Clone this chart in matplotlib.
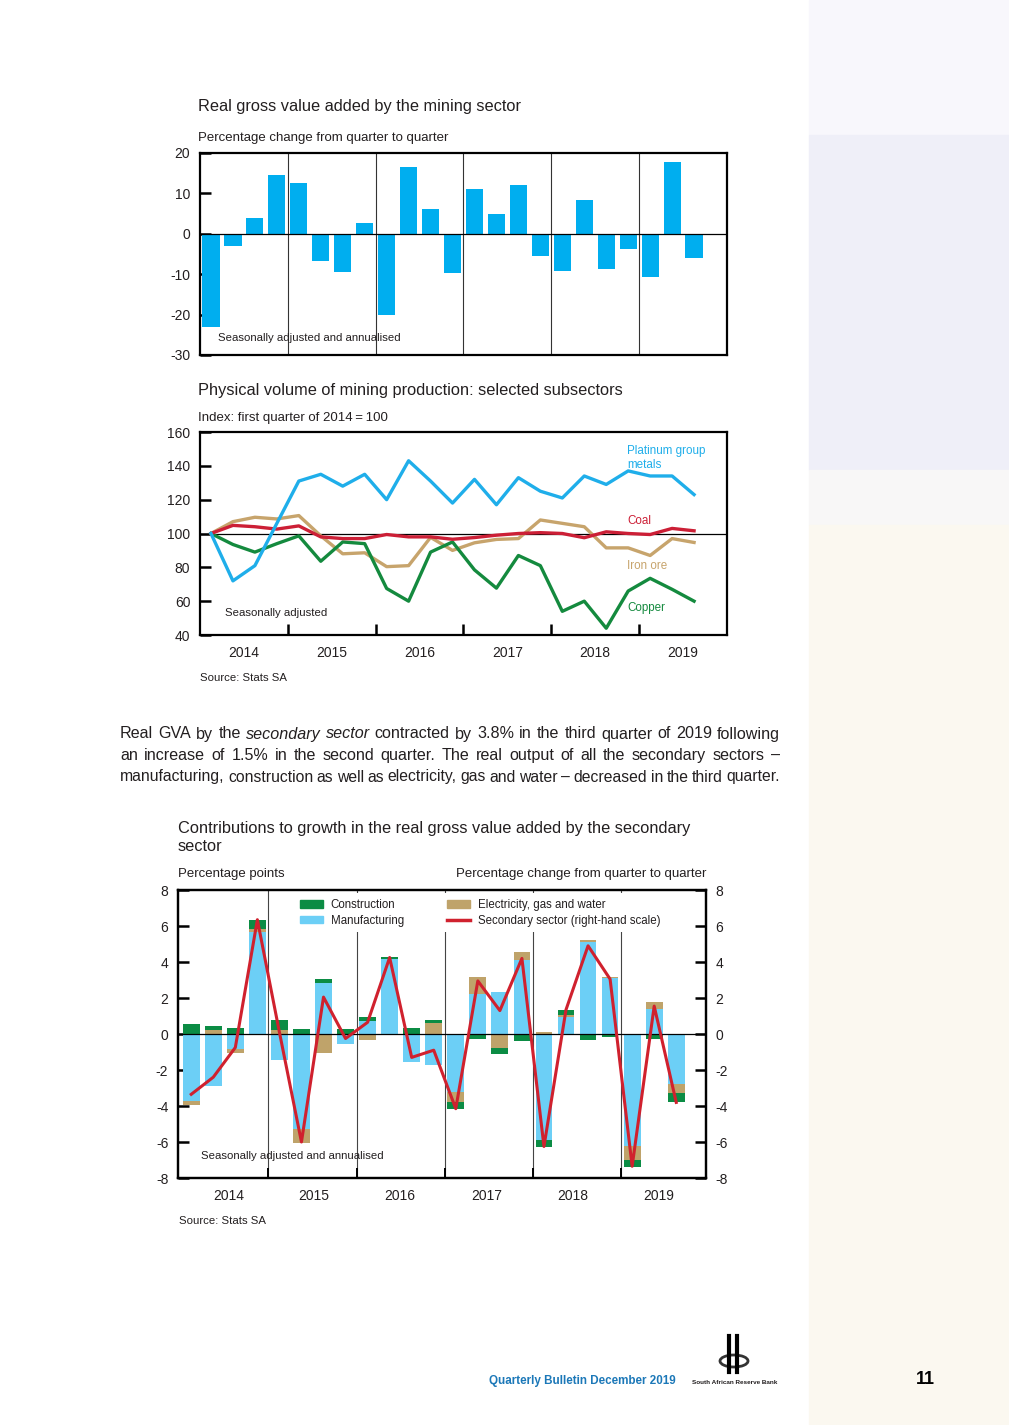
import matplotlib
matplotlib.use("Agg")
from matplotlib import pyplot as plt
from matplotlib.patches import Patch, Rectangle, Ellipse
from matplotlib.lines import Line2D
import numpy as np

plt.rcParams['font.family'] = ['Liberation Sans', 'DejaVu Sans']
plt.rcParams['axes.unicode_minus'] = False

W, H = 1009, 1425

# ---------------- data ----------------
years = ["2014", "2015", "2016", "2017", "2018", "2019"]

# mining GVA, % change q/q saar (2014Q1 .. 2019Q3)
mining_gva = [-23.0, -3.0, 3.9, 14.5, 12.6, -6.7, -9.5, 2.6, -20.2, 16.5, 6.1, -9.8,
              11.1, 4.8, 12.0, -5.4, -9.1, 8.3, -8.8, -3.7, -10.7, 17.7, -6.0]

# mining production index, 2014Q1 = 100
pgm = [100, 72, 81, 106, 131, 135, 128, 135, 120, 143, 131, 118,
       132, 117, 133, 125, 121, 134, 129, 137, 134, 134, 123]
coal = [100, 104.8, 104, 102.6, 104.5, 98, 97, 97, 99.4, 98, 98, 96.6,
        97.6, 99, 100, 100.5, 100, 97.5, 101, 100, 99.4, 103, 101.6]
iron_ore = [100, 107, 109.6, 108.6, 110.6, 98.6, 88, 88.6, 80.4, 81, 97.7, 90,
            94.5, 96.5, 97, 108, 106, 104, 91.5, 91.5, 87, 97, 94.7]
copper = [100, 93.5, 89, 94, 98.6, 83.6, 95, 94, 67.5, 60, 89, 95,
          78.5, 67.7, 87, 81, 54, 60, 44, 66, 73.5, 67, 60]

# secondary sector contributions (percentage points)
construction = [0.55, 0.25, 0.32, 0.50, 0.53, 0.27, 0.22, 0.27, 0.22, 0.14, 0.32, 0.20,
                -0.35, -0.28, -0.35, -0.40, -0.40, 0.28, -0.35, -0.15, -0.40, -0.30, -0.50]
manufacturing = [-3.70, -2.90, -0.85, 5.65, -1.45, -5.25, 2.85, -0.55, 0.75, 4.15, -1.55, -1.70,
                 -3.20, 2.20, 2.35, 4.10, -5.90, 0.95, 5.10, 3.10, -6.20, 1.40, -2.75]
electricity = [-0.25, 0.20, -0.20, 0.20, 0.25, -0.80, -1.05, 0.0, -0.35, -0.05, 0.0, 0.60,
               -0.60, 0.95, -0.75, 0.45, 0.12, 0.10, 0.10, 0.05, -0.80, 0.38, -0.55]
secondary = [-3.35, -2.4, -0.75, 6.35, 0.1, -6.0, 2.05, -0.25, 0.65, 4.25, -1.3, -0.9,
             -4.15, 2.95, 1.3, 4.2, -6.25, 1.35, 4.9, 3.05, -7.35, 1.55, -3.8]

# ---------------- colours ----------------
c_bar = '#00AEEF'
c_pgm = '#1FAEEA'
c_coal = '#CC1F36'
c_iron = '#C7A46C'
c_copper = '#148A3E'
c_constr = '#0B8C44'
c_manuf = '#6CCFF6'
c_elec = '#BFA36A'
c_sec = '#D0212E'
c_text = '#231F20'

TITLE = 11.8
SUB = 9.5
TICK = 10


def rect(x0, y0, x1, y1):
    return [x0 / W, 1 - y1 / H, (x1 - x0) / W, (y1 - y0) / H]


def ftext(x, y, s, **kw):
    kw.setdefault('color', c_text)
    return fig.text(x / W, 1 - y / H, s, **kw)


def style_axes(ax):
    for sp in ax.spines.values():
        sp.set_linewidth(1.6)
        sp.set_color('black')
    ax.tick_params(axis='y', direction='in', length=8, width=1.8, labelsize=TICK,
                   pad=7, colors='black', labelcolor=c_text)


fig = plt.figure(figsize=(W / 100, H / 100), dpi=100)

# decorative side stripe
fig.patches.append(Rectangle((809 / W, 1 - 135 / H), 1, 135 / H, transform=fig.transFigure,
                             color='#F8F7FC', zorder=0))
fig.patches.append(Rectangle((809 / W, 1 - 470 / H), 1, 335 / H, transform=fig.transFigure,
                             color='#EFEFF8', zorder=0))
fig.patches.append(Rectangle((809 / W, 1 - 525 / H), 1, 55 / H, transform=fig.transFigure,
                             color='#F8F7F7', zorder=0))
fig.patches.append(Rectangle((809 / W, 0), 1, 1 - 525 / H, transform=fig.transFigure,
                             color='#FBF8F0', zorder=0))

n = len(mining_gva)
x = np.arange(n)
bounds = [3.5, 7.5, 11.5, 15.5, 19.5]
centers = [1.5, 5.5, 9.5, 13.5, 17.5, 21.5]

# ---------------- chart 1 ----------------
ftext(198, 107, "Real gross value added by the mining sector", fontsize=TITLE, va='center')
ftext(198, 138, "Percentage change from quarter to quarter", fontsize=SUB, va='center')
ax1 = fig.add_axes(rect(200, 153, 727, 355))
ax1.bar(x, mining_gva, width=0.78, color=c_bar, zorder=2)
ax1.axhline(0, color='black', lw=0.9, zorder=3)
for b in bounds:
    ax1.axvline(b, color='#333333', lw=0.8, zorder=1)
ax1.set_xlim(-0.5, 23.5)
ax1.set_ylim(-30, 20)
ax1.set_yticks([20, 10, 0, -10, -20, -30])
ax1.set_xticks([])
style_axes(ax1)
ax1.text(0.035, 0.085, "Seasonally adjusted and annualised", transform=ax1.transAxes,
         fontsize=8.2, color=c_text, va='center')

# ---------------- chart 2 ----------------
ftext(198, 391, "Physical volume of mining production: selected subsectors", fontsize=TITLE, va='center')
ftext(198, 418, "Index: first quarter of 2014\u2009=\u2009100", fontsize=SUB, va='center')
ax2 = fig.add_axes(rect(200, 432, 727, 635))
ax2.axhline(100, color='black', lw=0.9, zorder=1)
ax2.plot(x, iron_ore, color=c_iron, lw=2.4, zorder=2)
ax2.plot(x, copper, color=c_copper, lw=2.4, zorder=3)
ax2.plot(x, coal, color=c_coal, lw=2.4, zorder=4)
ax2.plot(x, pgm, color=c_pgm, lw=2.4, zorder=5)
ax2.set_xlim(-0.5, 23.5)
ax2.set_ylim(40, 160)
ax2.set_yticks(np.arange(40, 161, 20))
ax2.set_xticks(bounds)
ax2.set_xticks(centers, minor=True)
ax2.set_xticklabels([])
ax2.set_xticklabels(years, minor=True)
style_axes(ax2)
ax2.tick_params(axis='x', which='major', direction='in', length=8, width=1.8)
ax2.tick_params(axis='x', which='minor', length=0, labelsize=TICK, pad=8, labelcolor=c_text)
ax2.text(18.95, 144.5, "Platinum group\nmetals", color=c_pgm, fontsize=8.4, va='center',
         linespacing=1.25)
ax2.text(18.95, 107.4, "Coal", color=c_coal, fontsize=8.4, va='center')
ax2.text(18.95, 80.8, "Iron ore", color=c_iron, fontsize=8.4, va='center')
ax2.text(18.95, 56, "Copper", color=c_copper, fontsize=8.4, va='center')
ax2.text(0.048, 0.11, "Seasonally adjusted", transform=ax2.transAxes, fontsize=8.2,
         color=c_text, va='center')
ftext(200, 678, "Source: Stats SA", fontsize=8.2, va='center')

# ---------------- paragraph ----------------
para = [
    [("Real", 'normal'), ("GVA", 'normal'), ("by", 'normal'), ("the", 'normal'),
     ("secondary", 'italic'), ("sector", 'italic'), ("contracted", 'normal'), ("by", 'normal'),
     ("3.8%", 'normal'), ("in", 'normal'), ("the", 'normal'), ("third", 'normal'),
     ("quarter", 'normal'), ("of", 'normal'), ("2019", 'normal'), ("following", 'normal')],
    [(w, 'normal') for w in "an increase of 1.5% in the second quarter. The real output of all the secondary sectors \u2013".split()],
    [(w, 'normal') for w in "manufacturing, construction as well as electricity, gas and water \u2013 decreased in the third quarter.".split()],
]
renderer = fig.canvas.get_renderer()
px0, px1 = 120, 780
for i, words in enumerate(para):
    y = 738.5 + i * 21.5
    size = 11.6
    while True:
        texts = [ftext(0, y, w, fontsize=size, style=st, va='baseline') for w, st in words]
        widths = [t.get_window_extent(renderer).width for t in texts]
        space = size * 100 / 72 * 0.22
        if sum(widths) + space * (len(words) - 1) <= (px1 - px0) or size < 8:
            break
        for t in texts:
            t.remove()
        size -= 0.1
    gap = (px1 - px0 - sum(widths)) / (len(words) - 1)
    xx = px0
    for t, w in zip(texts, widths):
        t.set_x(xx / W)
        xx += w + gap

# ---------------- chart 3 ----------------
ftext(178, 837.5, "Contributions to growth in the real gross value added by the secondary\nsector",
      fontsize=TITLE, va='center', linespacing=1.3)
ftext(178, 874, "Percentage points", fontsize=SUB, va='center')
ftext(706, 874, "Percentage change from quarter to quarter", fontsize=SUB, va='center', ha='right')
ax3 = fig.add_axes(rect(178, 890, 706, 1178))
vals = np.array([construction, manufacturing, electricity])
cols = [c_constr, c_manuf, c_elec]
order = [1, 2, 0]  # manufacturing first, then electricity, then construction
pos_base = np.zeros(n)
neg_base = np.zeros(n)
for k in order:
    v = vals[k]
    p = np.where(v > 0, v, 0)
    m = np.where(v < 0, v, 0)
    ax3.bar(x, p, bottom=pos_base, width=0.76, color=cols[k], zorder=2)
    ax3.bar(x, m, bottom=neg_base, width=0.76, color=cols[k], zorder=2)
    pos_base += p
    neg_base += m
ax3.axhline(0, color='black', lw=0.9, zorder=3)
for b in bounds:
    ax3.axvline(b, color='#444444', lw=0.8, zorder=1)
ax3.set_xlim(-0.6, 23.35)
ax3.set_ylim(-8, 8)
ax3.set_yticks(np.arange(-8, 9, 2))
ax3.set_xticks(bounds)
ax3.set_xticks([1.7, 5.55, 9.45, 13.4, 17.3, 21.2], minor=True)
ax3.set_xticklabels([])
ax3.set_xticklabels(years, minor=True)
style_axes(ax3)
ax3.tick_params(axis='x', which='major', direction='in', length=7, width=1.4)
ax3.tick_params(axis='x', which='minor', length=0, labelsize=TICK, pad=8, labelcolor=c_text)
ax3b = ax3.twinx()
ax3b.plot(x, secondary, color=c_sec, lw=2.2, zorder=5)
ax3b.set_ylim(-8, 8)
ax3b.set_yticks(np.arange(-8, 9, 2))
style_axes(ax3b)
ax3b.text(0.043, 0.075, "Seasonally adjusted and annualised", transform=ax3b.transAxes,
          fontsize=8.2, color=c_text, va='center')
handles = [Patch(color=c_constr), Patch(color=c_manuf), Patch(color=c_elec),
           Line2D([], [], color=c_sec, lw=2.5)]
labels = ["Construction", "Manufacturing", "Electricity, gas and water",
          "Secondary sector (right-hand scale)"]
leg = ax3b.legend(handles, labels, ncol=2, loc='upper left', bbox_to_anchor=(0.213, 1.0),
                  fontsize=8.3, frameon=True, facecolor='white', edgecolor='none',
                  framealpha=1, fancybox=False, borderpad=0.5, handlelength=2.0,
                  handleheight=0.6, handletextpad=0.7, columnspacing=3.7, labelspacing=0.3,
                  borderaxespad=0.3)
for t in leg.get_texts():
    t.set_color(c_text)
ftext(179, 1221, "Source: Stats SA", fontsize=8.2, va='center')

# ---------------- footer ----------------
ftext(489, 1381, "Quarterly Bulletin December 2019", fontsize=8.4, va='center',
      color='#1C78B8', fontweight='bold')
ftext(735, 1382, "South African Reserve Bank", fontsize=4.6, va='center', ha='center',
      fontweight='bold')
fig.add_artist(Ellipse((734 / W, 1 - 1361 / H), 28 / W, 12 / H, transform=fig.transFigure,
                       fill=False, lw=2, color='#333333'))
fig.add_artist(Line2D([729 / W, 729 / W], [1 - 1336 / H, 1 - 1372 / H], color='black', lw=3))
fig.add_artist(Line2D([737 / W, 737 / W], [1 - 1336 / H, 1 - 1372 / H], color='black', lw=3))
ftext(925, 1380, "11", fontsize=13, va='center', ha='center', fontweight='bold',
      color='black')

fig.savefig("out.png", dpi=100)
